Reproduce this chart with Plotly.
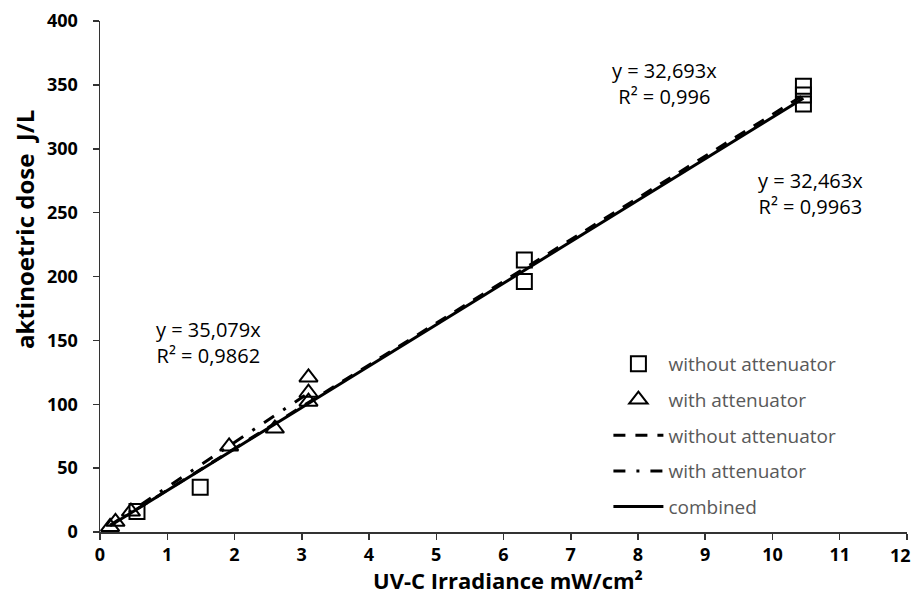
import plotly.graph_objects as go

# Data
sq_x = [0.55, 1.49, 6.31, 6.31, 10.46, 10.46, 10.46]
sq_y = [16, 35, 213, 196, 349, 342, 335]
tri_x = [0.15, 0.23, 0.46, 1.92, 2.6, 3.1, 3.1, 3.1]
tri_y = [4, 8, 16, 67, 81, 102, 109, 121]

slope_without = 32.693
slope_with = 35.079
slope_combined = 32.463

eq_without = "y = 32,693x<br>R² = 0,996"
eq_combined = "y = 32,463x<br>R² = 0,9963"
eq_with = "y = 35,079x<br>R² = 0,9862"

x_ticks = list(range(0, 13))
y_ticks = list(range(0, 401, 50))
x_title = "UV-C Irradiance mW/cm²"
y_title = "aktinoetric dose  J/L"

FONT = "Open Sans"

def fit_line(xs, slope):
    x0, x1 = min(xs), max(xs)
    return [x0, x1], [slope * x0, slope * x1]

all_x = sq_x + tri_x
lx_w, ly_w = fit_line(sq_x, slope_without)
lx_a, ly_a = fit_line(tri_x, slope_with)
lx_c, ly_c = fit_line(all_x, slope_combined)

fig = go.Figure()
fig.add_trace(go.Scatter(x=sq_x, y=sq_y, mode="markers", name="without attenuator", legendgroup="g1",
                         marker=dict(symbol="square-open", size=15, color="black", line=dict(width=2))))
fig.add_trace(go.Scatter(x=tri_x, y=tri_y, mode="markers", name="with attenuator", legendgroup="g2",
                         marker=dict(symbol="triangle-up-open", size=16, color="black", line=dict(width=2))))
fig.add_trace(go.Scatter(x=lx_w, y=ly_w, mode="lines", name="without attenuator", legendgroup="g3",
                         line=dict(color="black", width=3, dash="12px,10px")))
fig.add_trace(go.Scatter(x=lx_a, y=ly_a, mode="lines", name="with attenuator", legendgroup="g4",
                         line=dict(color="black", width=3, dash="12px,11px,3px,11px")))
fig.add_trace(go.Scatter(x=lx_c, y=ly_c, mode="lines", name="combined", legendgroup="g5",
                         line=dict(color="black", width=3)))

ann_font = dict(family=FONT, size=20, color="black")
fig.add_annotation(x=8.40, y=351, text=eq_without, showarrow=False, font=ann_font, align="center")
fig.add_annotation(x=10.56, y=265, text=eq_combined, showarrow=False, font=ann_font, align="center")
fig.add_annotation(x=1.61, y=148, text=eq_with, showarrow=False, font=ann_font, align="center")

# axis titles
fig.add_annotation(xref="paper", yref="paper", x=-0.093, y=0.593, text=y_title, textangle=-90,
                   showarrow=False, xanchor="center", yanchor="middle",
                   font=dict(family=FONT, size=24, color="black", weight="bold"))
fig.add_annotation(xref="paper", yref="paper", x=0.5055, y=-0.094, text=x_title,
                   showarrow=False, xanchor="center", yanchor="middle",
                   font=dict(family=FONT, size=22, color="black", weight="bold"))

tick_font = dict(family=FONT, size=18, color="black", weight="bold")
# last x tick label drawn right-aligned so it stays inside the page
x_ticktext = [str(v) for v in x_ticks[:-1]] + [""]
fig.add_annotation(x=x_ticks[-1], xref="x", yref="paper", y=0, text=str(x_ticks[-1]),
                   showarrow=False, xanchor="right", yanchor="top", xshift=6, yshift=-9,
                   font=tick_font)

axis_common = dict(showgrid=False, zeroline=False, showline=True, linecolor="#333333", linewidth=1.5,
                   ticks="outside", ticklen=6, tickcolor="#333333", tickwidth=1.5, automargin=False,
                   tickfont=tick_font)
fig.update_xaxes(range=[0, 12.0001], tickvals=x_ticks, ticktext=x_ticktext, **axis_common)
fig.update_yaxes(range=[0, 400.01], tickvals=y_ticks, ticklabelstandoff=11, **axis_common)

fig.update_layout(
    width=914, height=603,
    margin=dict(l=100, r=7, t=21, b=71),
    plot_bgcolor="white", paper_bgcolor="white",
    showlegend=True,
    hovermode=False,
    legend=dict(x=0.63, y=0.366, xanchor="left", yanchor="top",
                font=dict(family=FONT, size=19, color="#595959"),
                bgcolor="rgba(0,0,0,0)", tracegroupgap=8, itemwidth=50),
)

fig.write_html("out.html", config={"displayModeBar": False, "staticPlot": True},
               post_script="document.body.style.margin='0';document.body.style.overflow='hidden';")
